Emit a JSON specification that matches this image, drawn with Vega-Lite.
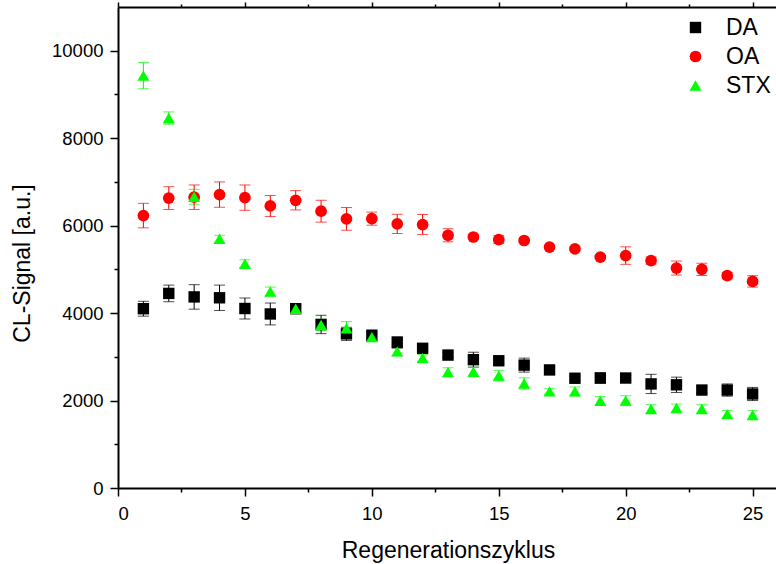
{
  "$schema": "https://vega.github.io/schema/vega-lite/v6.json",
  "width": 660,
  "height": 481,
  "autosize": {"type": "none"},
  "padding": {"left": 118, "top": 7, "right": 0, "bottom": 76},
  "background": "white",
  "config": {
    "view": {"stroke": null},
    "font": "Liberation Sans",
    "axis": {
      "domainColor": "black",
      "domainWidth": 2,
      "tickColor": "black",
      "tickWidth": 1.5,
      "labelColor": "black",
      "labelFont": "Liberation Sans",
      "labelFontSize": 18.5,
      "titleFont": "Liberation Sans",
      "titleFontSize": 23,
      "titleFontWeight": "normal",
      "titleColor": "black",
      "grid": false
    },
    "legend": {
      "labelFont": "Liberation Sans",
      "orient": "none",
      "legendX": 566,
      "legendY": 9,
      "labelFontSize": 23,
      "labelColor": "black",
      "rowPadding": 5,
      "labelOffset": 19,
      "padding": 0,
      "symbolOpacity": 1,
      "symbolStrokeWidth": 0
    }
  },
  "data": {
    "values": [
      {"s": "DA", "x": 1, "v": 4100, "e": 170},
      {"s": "DA", "x": 2, "v": 4450, "e": 190},
      {"s": "DA", "x": 3, "v": 4370, "e": 280},
      {"s": "DA", "x": 4, "v": 4350, "e": 290},
      {"s": "DA", "x": 5, "v": 4105, "e": 240},
      {"s": "DA", "x": 6, "v": 3980, "e": 250},
      {"s": "DA", "x": 7, "v": 4100, "e": 80},
      {"s": "DA", "x": 8, "v": 3740, "e": 210},
      {"s": "DA", "x": 9, "v": 3525, "e": 150},
      {"s": "DA", "x": 10, "v": 3486, "e": 130},
      {"s": "DA", "x": 11, "v": 3330, "e": 130},
      {"s": "DA", "x": 12, "v": 3195, "e": 60},
      {"s": "DA", "x": 13, "v": 3040, "e": 60},
      {"s": "DA", "x": 14, "v": 2935, "e": 170},
      {"s": "DA", "x": 15, "v": 2910, "e": 60},
      {"s": "DA", "x": 16, "v": 2810, "e": 160},
      {"s": "DA", "x": 17, "v": 2700, "e": 80},
      {"s": "DA", "x": 18, "v": 2510, "e": 50},
      {"s": "DA", "x": 19, "v": 2515, "e": 120},
      {"s": "DA", "x": 20, "v": 2515, "e": 60},
      {"s": "DA", "x": 21, "v": 2380, "e": 220},
      {"s": "DA", "x": 22, "v": 2360, "e": 175},
      {"s": "DA", "x": 23, "v": 2240, "e": 70},
      {"s": "DA", "x": 24, "v": 2240, "e": 140},
      {"s": "DA", "x": 25, "v": 2150, "e": 150},
      {"s": "OA", "x": 1, "v": 6230, "e": 280},
      {"s": "OA", "x": 2, "v": 6630, "e": 260},
      {"s": "OA", "x": 3, "v": 6650, "e": 280},
      {"s": "OA", "x": 4, "v": 6710, "e": 290},
      {"s": "OA", "x": 5, "v": 6640, "e": 290},
      {"s": "OA", "x": 6, "v": 6450, "e": 240},
      {"s": "OA", "x": 7, "v": 6580, "e": 220},
      {"s": "OA", "x": 8, "v": 6330, "e": 250},
      {"s": "OA", "x": 9, "v": 6155, "e": 260},
      {"s": "OA", "x": 10, "v": 6160, "e": 150},
      {"s": "OA", "x": 11, "v": 6040, "e": 220},
      {"s": "OA", "x": 12, "v": 6025, "e": 230},
      {"s": "OA", "x": 13, "v": 5780, "e": 150},
      {"s": "OA", "x": 14, "v": 5740, "e": 60},
      {"s": "OA", "x": 15, "v": 5680, "e": 90},
      {"s": "OA", "x": 16, "v": 5660, "e": 40},
      {"s": "OA", "x": 17, "v": 5510, "e": 40},
      {"s": "OA", "x": 18, "v": 5470, "e": 40},
      {"s": "OA", "x": 19, "v": 5280, "e": 40},
      {"s": "OA", "x": 20, "v": 5315, "e": 200},
      {"s": "OA", "x": 21, "v": 5200, "e": 80},
      {"s": "OA", "x": 22, "v": 5030, "e": 160},
      {"s": "OA", "x": 23, "v": 5000, "e": 140},
      {"s": "OA", "x": 24, "v": 4855, "e": 70},
      {"s": "OA", "x": 25, "v": 4725, "e": 130},
      {"s": "STX", "x": 1, "v": 9430, "e": 300},
      {"s": "STX", "x": 2, "v": 8460, "e": 140},
      {"s": "STX", "x": 3, "v": 6660, "e": 170},
      {"s": "STX", "x": 4, "v": 5700, "e": 80},
      {"s": "STX", "x": 5, "v": 5130, "e": 90},
      {"s": "STX", "x": 6, "v": 4495, "e": 100},
      {"s": "STX", "x": 7, "v": 4100, "e": 80},
      {"s": "STX", "x": 8, "v": 3730, "e": 130},
      {"s": "STX", "x": 9, "v": 3655, "e": 150},
      {"s": "STX", "x": 10, "v": 3450, "e": 100},
      {"s": "STX", "x": 11, "v": 3125, "e": 100},
      {"s": "STX", "x": 12, "v": 2975, "e": 80},
      {"s": "STX", "x": 13, "v": 2650, "e": 100},
      {"s": "STX", "x": 14, "v": 2660, "e": 100},
      {"s": "STX", "x": 15, "v": 2570, "e": 120},
      {"s": "STX", "x": 16, "v": 2390, "e": 130},
      {"s": "STX", "x": 17, "v": 2210, "e": 60},
      {"s": "STX", "x": 18, "v": 2210, "e": 100},
      {"s": "STX", "x": 19, "v": 1995, "e": 100},
      {"s": "STX", "x": 20, "v": 2000, "e": 110},
      {"s": "STX", "x": 21, "v": 1805, "e": 100},
      {"s": "STX", "x": 22, "v": 1830, "e": 90},
      {"s": "STX", "x": 23, "v": 1805, "e": 100},
      {"s": "STX", "x": 24, "v": 1690, "e": 80},
      {"s": "STX", "x": 25, "v": 1670, "e": 100}
    ]
  },
  "encoding": {
    "x": {
      "field": "x",
      "type": "quantitative",
      "scale": {"domain": [0, 26], "nice": false, "zero": false},
      "axis": {
        "orient": "bottom",
        "title": "Regenerationszyklus",
        "values": [0, 2.5, 5, 7.5, 10, 12.5, 15, 17.5, 20, 22.5, 25],
        "labelExpr": "datum.value % 5 === 0 ? datum.label : ''",
        "tickSize": {"condition": {"test": "datum.value % 5 === 0", "value": 8}, "value": 4},
        "labelPadding": 8,
        "titlePadding": 17
      }
    },
    "y": {
      "field": "v",
      "type": "quantitative",
      "scale": {"domain": [0, 11000], "nice": false},
      "axis": {
        "title": "CL-Signal [a.u.]",
        "values": [0, 1000, 2000, 3000, 4000, 5000, 6000, 7000, 8000, 9000, 10000],
        "format": "d",
        "labelExpr": "datum.value % 2000 === 0 ? datum.label : ''",
        "tickSize": {"condition": {"test": "datum.value % 2000 === 0", "value": 8}, "value": 4},
        "labelPadding": 7,
        "titleX": -96,
        "titleY": 256,
        "titleBaseline": "middle"
      }
    },
    "color": {
      "field": "s",
      "type": "nominal",
      "scale": {"domain": ["DA", "OA", "STX"], "range": ["#000000", "#ff0000", "#00ff00"]},
      "legend": {"title": null}
    }
  },
  "layer": [
    {
      "mark": {"type": "errorbar", "ticks": {"size": 11}, "thickness": 1},
      "encoding": {
        "x": {
          "field": "x",
          "type": "quantitative",
          "scale": {"domain": [0, 26], "nice": false, "zero": false},
          "axis": {
            "orient": "top",
            "title": null,
            "labels": false,
            "values": [0, 2.5, 5, 7.5, 10, 12.5, 15, 17.5, 20, 22.5, 25],
            "tickSize": {"condition": {"test": "datum.value % 5 === 0", "value": 5}, "value": 3}
          }
        },
        "yError": {"field": "e"}
      }
    },
    {
      "mark": {"type": "point", "filled": true, "opacity": 1, "strokeWidth": 0},
      "encoding": {
        "shape": {
          "field": "s",
          "type": "nominal",
          "scale": {"domain": ["DA", "OA", "STX"], "range": ["square", "circle", "triangle-up"]},
          "legend": {"title": null}
        },
        "size": {
          "field": "s",
          "type": "nominal",
          "scale": {"domain": ["DA", "OA", "STX"], "range": [130, 145, 290]},
          "legend": {"title": null}
        }
      }
    }
  ],
  "resolve": {
    "axis": {"x": "independent"}
  }
}
